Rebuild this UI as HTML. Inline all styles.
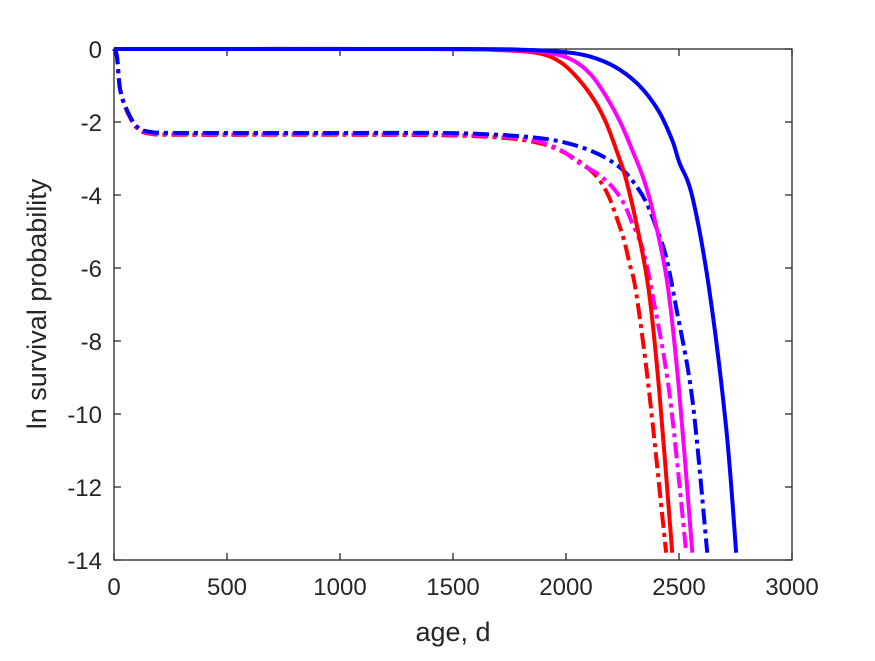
<!DOCTYPE html>
<html><head><meta charset="utf-8"><style>
html,body{margin:0;padding:0;background:#fff;}
svg text{font-family:"Liberation Sans",Arial,sans-serif;fill:#262626;}
</style></head><body>
<svg id="chart" width="875" height="656" viewBox="0 0 875 656">
<rect width="875" height="656" fill="#fff"/>
<g id="axes"></g>
<g id="series"></g>
<text x="453" y="641" font-size="27" text-anchor="middle">age, d</text>
<text transform="translate(46,304) rotate(-90)" font-size="27" text-anchor="middle">ln survival probability</text>
</svg>
<script>
const xTicks=[0,500,1000,1500,2000,2500,3000];
const yTicks=[0,-2,-4,-6,-8,-10,-12,-14];
const blueSolidAge=[0,1500,1800,1980,2103,2220,2324,2410,2470,2501,2559,2634,2709,2753];
const blueSolidVal=[0,0,-0.02,-0.08,-0.2,-0.5,-1.0,-1.7,-2.5,-3.1,-4.05,-6.6,-10.4,-13.8];
const magSolidAge=[0,1400,1750,1920,2028,2110,2178,2240,2293,2340,2382,2448,2501,2559];
const magSolidVal=[0,0,-0.03,-0.1,-0.3,-0.7,-1.3,-2.0,-2.77,-3.5,-4.4,-6.4,-9.4,-13.8];
const redSolidAge=[0,1400,1700,1882,1980,2059,2130,2178,2223,2267,2324,2368,2413,2470];
const redSolidVal=[0,0,-0.03,-0.12,-0.38,-0.85,-1.45,-2.03,-2.77,-3.6,-5.15,-6.7,-9.4,-13.8];
const blueDashAge=[0,13,27,57,102,159,300,1000,1440,1700,1882,2000,2103,2180,2249,2305,2355,2400,2443,2488,2559,2625];
const blueDashVal=[0,-0.2,-1.1,-1.67,-2.13,-2.27,-2.3,-2.3,-2.3,-2.35,-2.44,-2.57,-2.77,-3.0,-3.3,-3.7,-4.2,-4.9,-5.7,-7.1,-9.6,-13.8];
const magDashAge=[0,13,27,57,102,159,300,1000,1500,1750,1882,1980,2059,2140,2205,2255,2293,2330,2355,2382,2457,2532];
const magDashVal=[0,-0.2,-1.1,-1.68,-2.15,-2.3,-2.33,-2.33,-2.35,-2.42,-2.54,-2.78,-3.13,-3.42,-3.78,-4.22,-4.77,-5.3,-5.87,-6.7,-9.4,-13.8];
const redDashAge=[0,13,27,57,102,159,300,1000,1500,1750,1882,1960,2028,2095,2148,2190,2223,2255,2281,2311,2368,2443];
const redDashVal=[0,-0.2,-1.1,-1.7,-2.17,-2.32,-2.35,-2.35,-2.37,-2.45,-2.58,-2.74,-2.96,-3.25,-3.59,-4.05,-4.6,-5.2,-5.87,-6.7,-9.4,-13.8];

const X0=114,X1=792,Y0=49,Y1=560;
const xs=v=>X0+(v-0)/(3000)*(X1-X0);
const ys=v=>Y0+(0-v)/14*(Y1-Y0);
const NS="http://www.w3.org/2000/svg";
const ax=document.getElementById('axes');
function mk(tag,attrs,parent){const e=document.createElementNS(NS,tag);for(const k in attrs)e.setAttribute(k,attrs[k]);parent.appendChild(e);return e;}
const box=mk('rect',{x:X0,y:Y0,width:X1-X0,height:Y1-Y0,fill:'none',stroke:'#262626','stroke-width':1.3},ax);


xTicks.forEach(t=>{
  const x=xs(t);
  const l=mk('path',{d:`M${x},${Y1}v-7M${x},${Y0}v7`,stroke:'#262626','stroke-width':1.3},ax);
  
  
  const tx=mk('text',{x:x,y:Y1+35,'font-size':24,'text-anchor':'middle'},ax);
  tx.textContent=t;
  
  
});
yTicks.forEach(t=>{
  const y=ys(t);
  const l=mk('path',{d:`M${X0},${y}h7M${X1},${y}h-7`,stroke:'#262626','stroke-width':1.3},ax);
  
  
  const tx=mk('text',{x:X0-12,y:y+9,'font-size':24,'text-anchor':'end'},ax);
  tx.textContent=t;
  
  
});
function pathFrom(ag,vl){
  const p=ag.map((a,i)=>[xs(a),ys(vl[i])]);
  let d=`M${p[0][0]},${p[0][1]}`;
  for(let i=0;i<p.length-1;i++){
    const p0=p[Math.max(0,i-1)],p1=p[i],p2=p[i+1],p3=p[Math.min(p.length-1,i+2)];
    const c1=[p1[0]+(p2[0]-p0[0])/6,p1[1]+(p2[1]-p0[1])/6];
    const c2=[p2[0]-(p3[0]-p1[0])/6,p2[1]-(p3[1]-p1[1])/6];
    d+=` C${c1[0]},${c1[1]} ${c2[0]},${c2[1]} ${p2[0]},${p2[1]}`;
  }
  return d;
}
const sg=document.getElementById('series');
const defs=[
 [redDashAge,redDashVal,'#ff0000',true,'red-dashdot-line'],
 [magDashAge,magDashVal,'#ff00ff',true,'magenta-dashdot-line'],
 [blueDashAge,blueDashVal,'#0000ff',true,'blue-dashdot-line'],
 [redSolidAge,redSolidVal,'#ff0000',false,'red-solid-line'],
 [magSolidAge,magSolidVal,'#ff00ff',false,'magenta-solid-line'],
 [blueSolidAge,blueSolidVal,'#0000ff',false,'blue-solid-line'],
];
defs.forEach(([a,v,c,dash,name])=>{
  const attrs={d:pathFrom(a,v),fill:'none',stroke:c,'stroke-width':4,'stroke-linejoin':'round'};
  if(dash)attrs['stroke-dasharray']='16,5,4,5';
  const e=mk('path',attrs,sg);
  
  
});
</script>
</body></html>
